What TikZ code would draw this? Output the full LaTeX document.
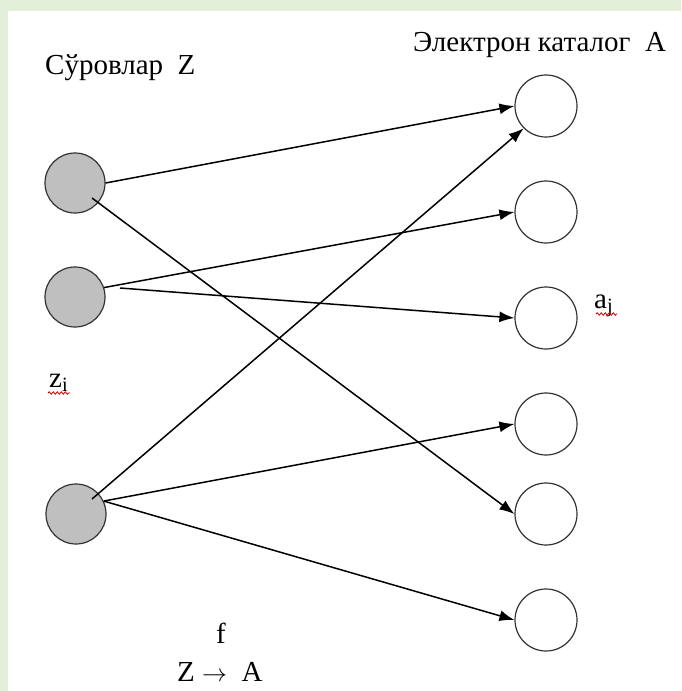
\documentclass[tikz,border=0pt]{standalone}
\usepackage{fontspec}
\setmainfont{Liberation Serif}
\usetikzlibrary{arrows.meta,calc,decorations.pathmorphing}
\definecolor{PaleGreen}{HTML}{E3EFD9}
\definecolor{QueryGray}{HTML}{BFBFBF}

\begin{document}
\begin{tikzpicture}[x=1pt,y=-1pt,every node/.style={font=\fontsize{29}{34}\selectfont,inner sep=0pt},
    query/.style={circle,draw=black!80,fill=QueryGray,line width=1.2pt,minimum size=60pt,inner sep=0pt},
    item/.style={circle,draw=black!80,fill=white,line width=1.2pt,minimum size=62pt,inner sep=0pt},
    link/.style={-{Latex[length=15pt,width=11pt]},line width=1.5pt},
    typo/.style={red!80!black,line width=0.8pt,decorate,decoration={snake,amplitude=1.2pt,segment length=4pt}}]
    \useasboundingbox (0,0) rectangle (681,691);
    \fill[white] (0,0) rectangle (681,691);
    \fill[PaleGreen] (0,0) rectangle (681,11);
    \fill[PaleGreen] (0,0) rectangle (8,691);
    % queries Z
    \node[query] (z1) at (75,183) {};
    \node[query] (z2) at (75,297) {};
    \node[query] (z3) at (76,514) {};
    % catalogue A
    \node[item] (a1) at (546,106) {};
    \node[item] (a2) at (546,212) {};
    \node[item] (a3) at (546,318) {};
    \node[item] (a4) at (546,424) {};
    \node[item] (a5) at (546,514) {};
    \node[item] (a6) at (546,620) {};
    % labels
    \node[anchor=base west] (ztitle) at (45,74) {Сўровлар\ \ Z};
    \node[anchor=base west] (atitle) at (413,51) {Электрон каталог\ \ А};
    \node[anchor=base west] (zi) at (49,387) {z\textsubscript{i}};
    \node[anchor=base west] (aj) at (594,308) {a\textsubscript{j}};
    \node[anchor=base] (fname) at (221,643) {f};
    \node[anchor=base west] (fmap) at (177,681) {Z $\rightarrow$\ \ A};
    \draw[typo] (48,393) -- (70,393);
    \draw[typo] (596,314) -- (617,314);
    % mapping f
    \coordinate (s1) at ($(z1)+(17,15)$);
    \coordinate (s2) at ($(z2)+(45,-9)$);
    \coordinate (s3) at ($(z3)+(16,-15)$);
    \draw[link] (z1.east) -- (a1.west);
    \draw[link] (s1) -- (a5.west);
    \draw[link] (z2.18) -- (a2.west);
    \draw[link] (s2) -- (a3.west);
    \draw[link] (s3) -- (a1.225);
    \draw[link] (z3.25) -- (a4.west);
    \draw[link] (z3.25) -- (a6.west);
  \end{tikzpicture}
\end{document}
